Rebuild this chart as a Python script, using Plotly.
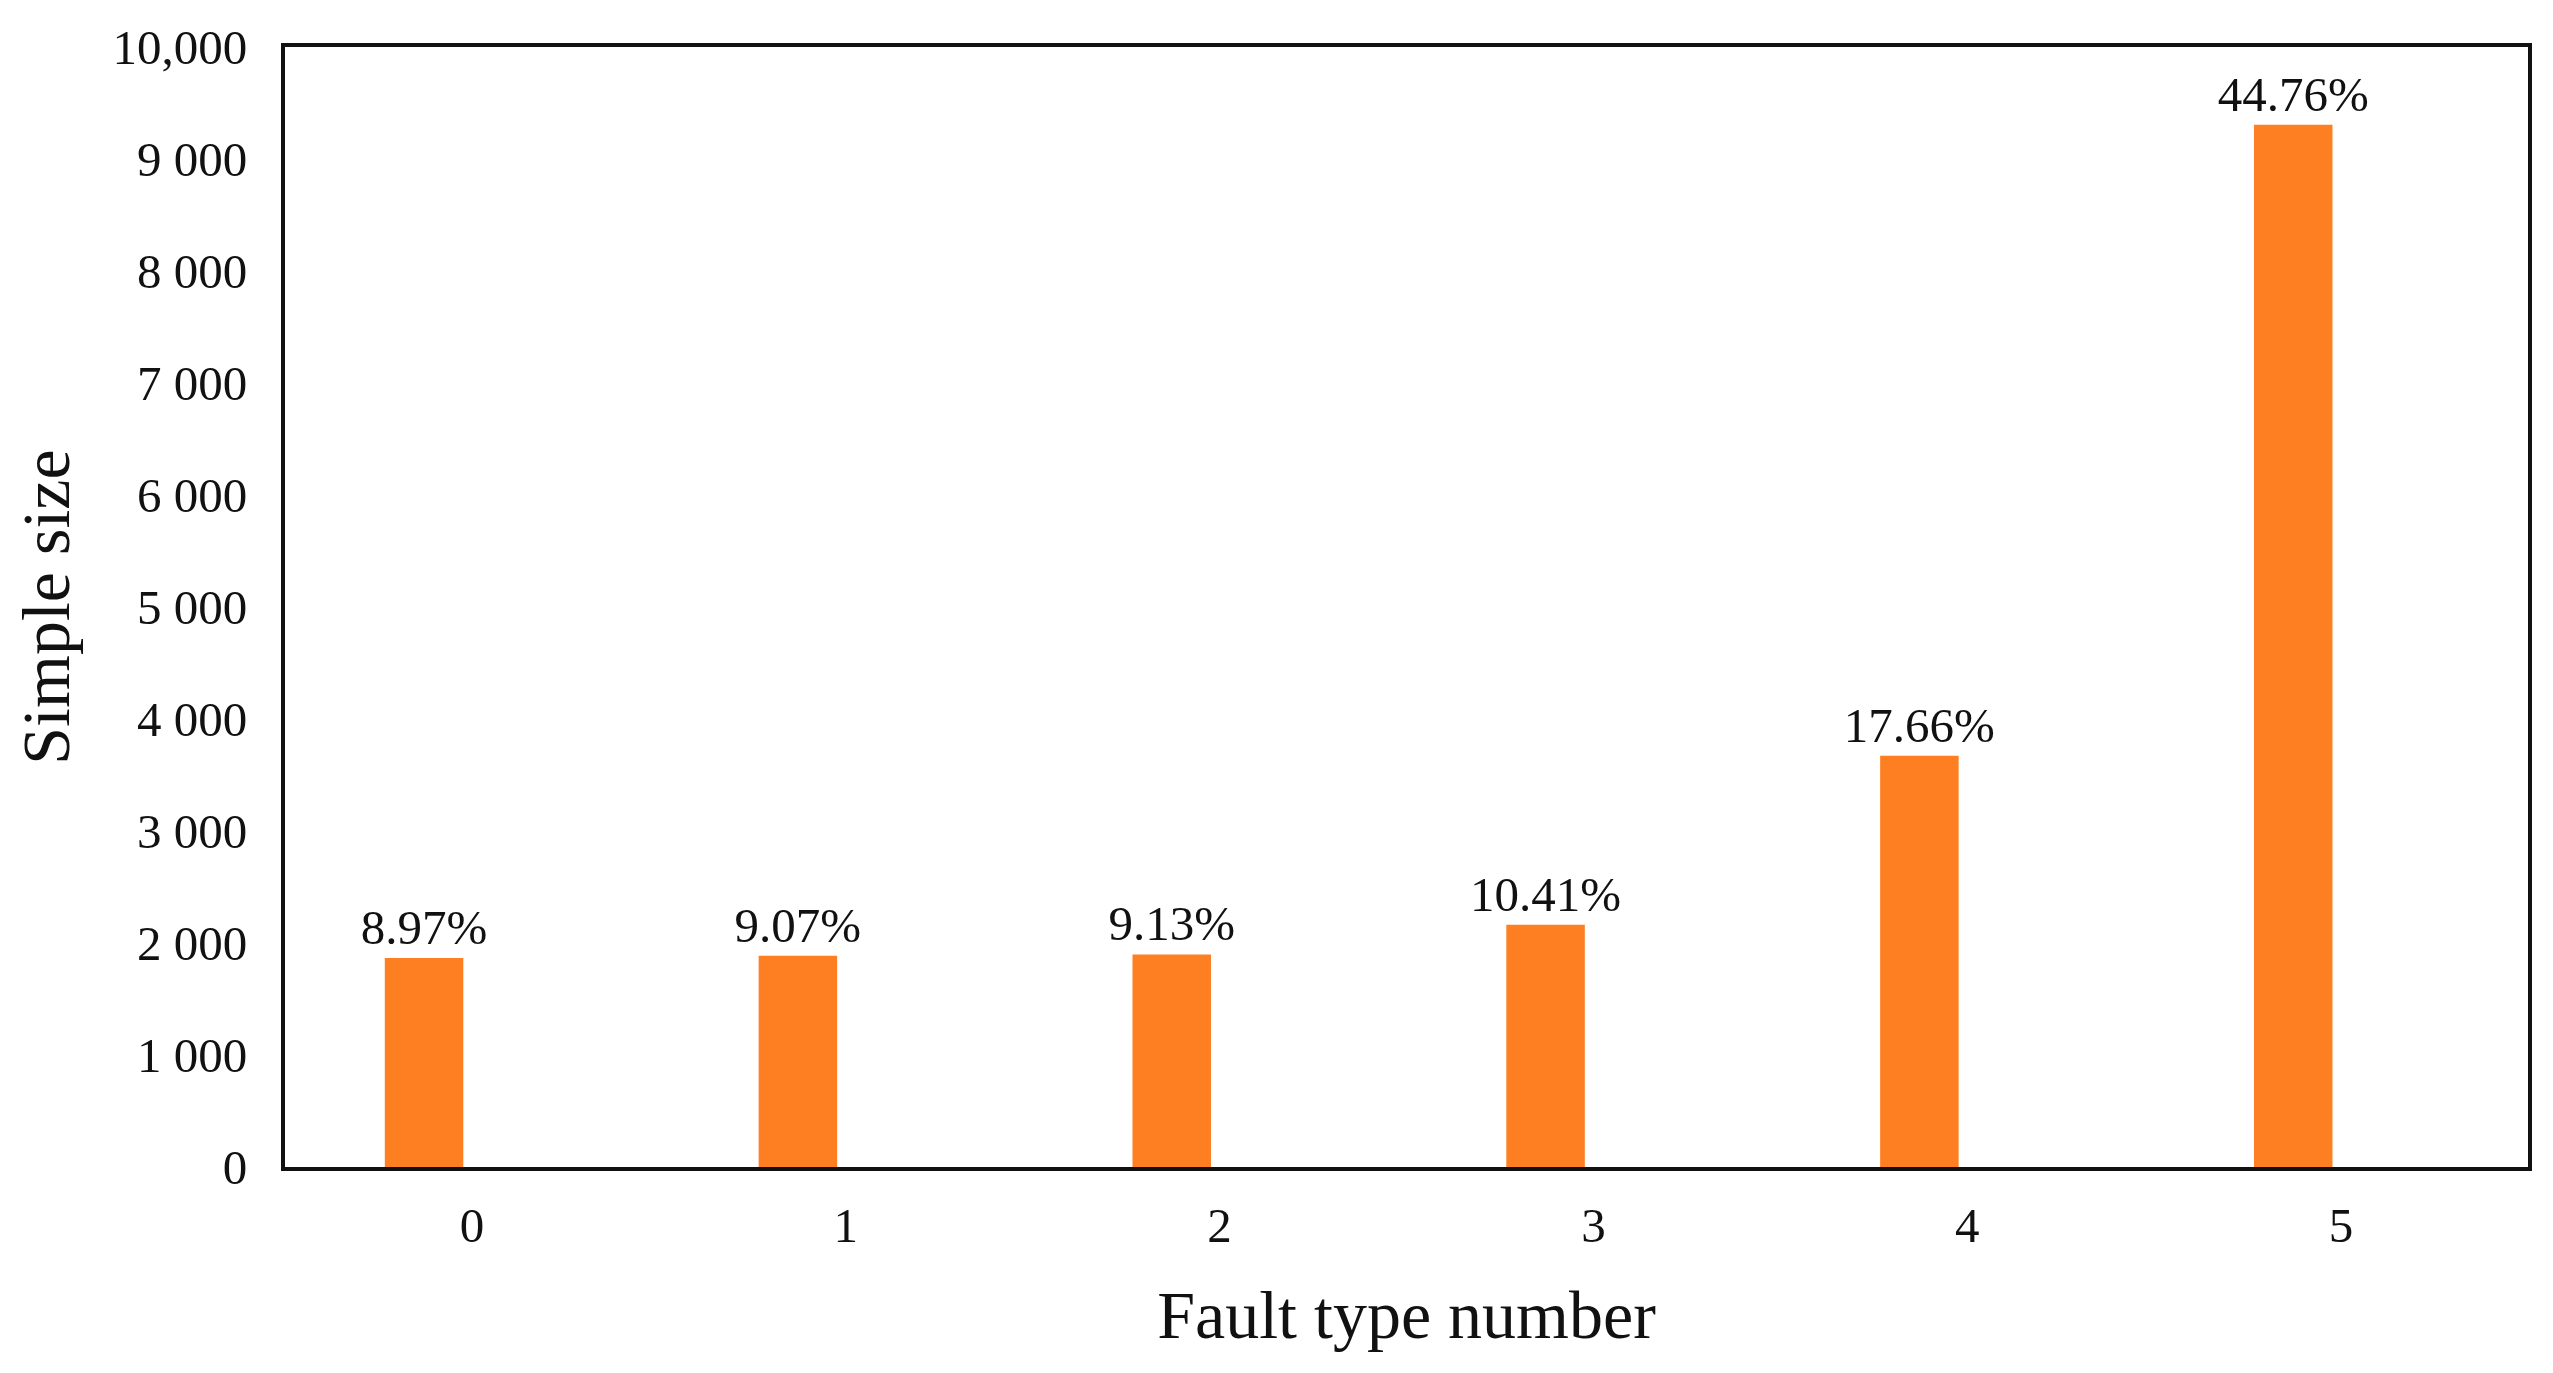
import plotly.graph_objects as go

FAULT_TYPES = [0, 1, 2, 3, 4, 5]
SAMPLE_SIZE = [1865, 1886, 1898, 2164, 3671, 9306]
SHARE_LABELS = ["8.97%", "9.07%", "9.13%", "10.41%", "17.66%", "44.76%"]
Y_TICKS = [0, 1000, 2000, 3000, 4000, 5000, 6000, 7000, 8000, 9000, 10000]
Y_TICK_TEXT = ["0", "1 000", "2 000", "3 000", "4 000", "5 000",
               "6 000", "7 000", "8 000", "9 000", "10,000"]

ORANGE = "#FE7F22"
INK = "#111111"
SERIF = "Liberation Serif, Times New Roman, serif"

fig = go.Figure(
    go.Bar(
        x=FAULT_TYPES,
        y=SAMPLE_SIZE,
        text=SHARE_LABELS,
        textposition="outside",
        constraintext="none",
        cliponaxis=False,
        textfont=dict(family=SERIF, size=49, color=INK),
        marker=dict(color=ORANGE, line=dict(width=0)),
        width=0.21,
        offset=-0.233,
    )
)

fig.update_layout(
    width=2553,
    height=1373,
    plot_bgcolor="white",
    paper_bgcolor="white",
    font=dict(family=SERIF, color=INK),
    margin=dict(l=277, r=33, t=39, b=214),
    showlegend=False,
)

fig.update_xaxes(
    range=[-0.5, 5.5],
    tickvals=FAULT_TYPES,
    ticktext=[str(v) for v in FAULT_TYPES],
    tickfont=dict(size=49),
    ticklabelstandoff=12,
    showgrid=False,
    zeroline=False,
    showline=True,
    linecolor=INK,
    linewidth=4,
    mirror=True,
    title=dict(text="Fault type number", font=dict(size=68), standoff=40),
)
fig.update_yaxes(
    range=[0, 10000],
    tickvals=Y_TICKS,
    ticktext=Y_TICK_TEXT,
    tickfont=dict(size=49),
    ticklabelstandoff=24,
    showgrid=False,
    zeroline=False,
    showline=True,
    linecolor=INK,
    linewidth=4,
    mirror=True,
    title=dict(text="Simple size", font=dict(size=68), standoff=38),
)

fig.write_html("out.html")
